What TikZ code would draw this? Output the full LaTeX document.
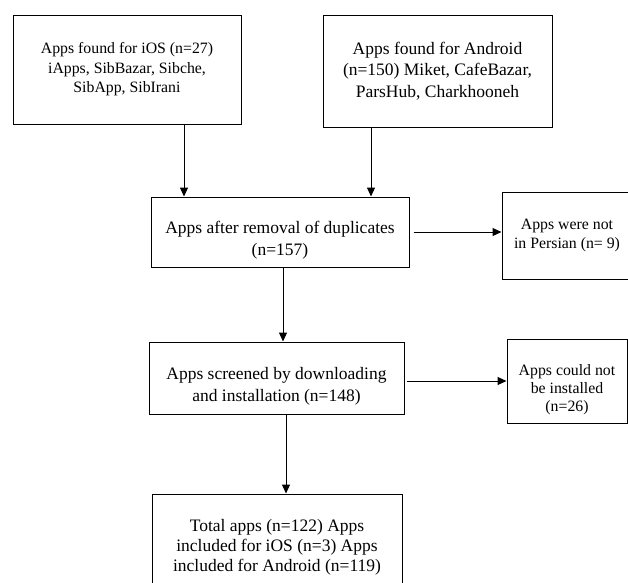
\documentclass[tikz,border=0pt]{standalone}
\usepackage{fontspec}
\setmainfont{Liberation Serif}
\usetikzlibrary{arrows.meta}
\newcommand{\dropstrut}{\rule{0pt}{29pt}}
\tikzset{
  flowbox/.style={draw, line width=1pt, align=center, inner sep=0pt},
  bigtext/.style={font=\fontsize{17.5}{21.5}\selectfont},
  smalltext/.style={font=\fontsize{15.8}{19.5}\selectfont},
  flowarrow/.style={-{Triangle[length=9pt,width=8pt]}, line width=1pt}
}
\begin{document}
\begin{tikzpicture}[x=1pt,y=-1pt]
      \useasboundingbox (0,0) rectangle (628,582);
      \clip (0,0) rectangle (628,582);
      \node[flowbox, smalltext, minimum width=228pt, minimum height=109pt] (ios) at (127,69.5)
        {Apps found for iOS (n=27)\\ iApps, SibBazar, Sibche,\\ SibApp, SibIrani};
      \node[flowbox, bigtext, minimum width=229pt, minimum height=112pt] (android) at (437.5,71)
        {Apps found for Android\\ (n=150) Miket, CafeBazar,\\ ParsHub, Charkhooneh};
      \node[flowbox, bigtext, minimum width=258pt, minimum height=70pt] (dup) at (280,232)
        {\dropstrut Apps after removal of duplicates\\ (n=157)};
      \node[flowbox, smalltext, minimum width=130pt, minimum height=87pt] (persian) at (567,235.5)
        {Apps were not\\ in Persian (n= 9)};
      \node[flowbox, bigtext, minimum width=255pt, minimum height=72pt] (screen) at (276.5,378)
        {\dropstrut Apps screened by downloading\\ and installation (n=148)};
      \node[flowbox, smalltext, font=\fontsize{15.8}{18}\selectfont, minimum width=120pt, minimum height=84pt] (fail) at (567,381)
        {\dropstrut Apps could not\\ be installed\\ (n=26)};
      \node[flowbox, bigtext, font=\fontsize{17.5}{20}\selectfont, minimum width=250pt, minimum height=106pt] (total) at (277,547)
        {Total apps (n=122) Apps\\ included for iOS (n=3) Apps\\ included for Android (n=119)};
      \coordinate (iosdrop) at (184,0);
      \coordinate (anddrop) at (371,0);
      \coordinate (dupdrop) at (283,0);
      \coordinate (scrdrop) at (286,0);
      \begin{scope}[flowarrow]
        \draw (ios.south -| iosdrop) to (dup.north -| iosdrop);
        \draw (android.south -| anddrop) to (dup.north -| anddrop);
        \draw ([xshift=4pt]dup.east) to (dup.east -| persian.west);
        \draw (dup.south -| dupdrop) to (screen.north -| dupdrop);
        \draw ([xshift=2pt]fail.west -| screen.east) to (fail.west);
        \draw (screen.south -| scrdrop) to (total.north -| scrdrop);
      \end{scope}
    \end{tikzpicture}
\end{document}
